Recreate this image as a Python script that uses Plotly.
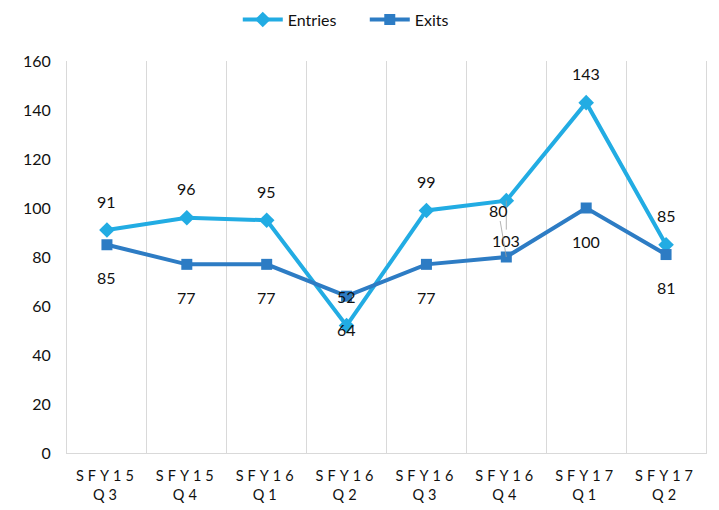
import plotly.graph_objects as go

categories = ["SFY15 Q3", "SFY15 Q4", "SFY16 Q1", "SFY16 Q2", "SFY16 Q3", "SFY16 Q4", "SFY17 Q1", "SFY17 Q2"]
tick_top = ["SFY15", "SFY15", "SFY16", "SFY16", "SFY16", "SFY16", "SFY17", "SFY17"]
tick_bottom = ["Q3", "Q4", "Q1", "Q2", "Q3", "Q4", "Q1", "Q2"]
entries = [91, 96, 95, 52, 99, 103, 143, 85]
exits = [85, 77, 77, 64, 77, 80, 100, 81]

ENTRY_COLOR = "#22ACE3"
EXIT_COLOR = "#2D7CC4"
FONT = "Lato, Calibri, Arial, sans-serif"

fig = go.Figure()
fig.add_trace(go.Scatter(
    x=categories, y=entries, name="Entries", mode="lines+markers",
    line=dict(color=ENTRY_COLOR, width=4),
    marker=dict(symbol="diamond", size=12, color=ENTRY_COLOR),
))
fig.add_trace(go.Scatter(
    x=categories, y=exits, name="Exits", mode="lines+markers",
    line=dict(color=EXIT_COLOR, width=4),
    marker=dict(symbol="square", size=11, color=EXIT_COLOR),
))

annotations = []
for i, (c, v) in enumerate(zip(categories, entries)):
    if i == 5:
        annotations.append(dict(x=c, y=v, text=str(v), showarrow=True, arrowhead=0,
                                arrowwidth=0.8, arrowcolor="#A0A0A0", ax=0, ay=40,
                                standoff=0, font=dict(size=16, color="#111")))
    else:
        annotations.append(dict(x=c, y=v, text=str(v), showarrow=False, yshift=29,
                                font=dict(size=16, color="#111")))
for i, (c, v) in enumerate(zip(categories, exits)):
    if i == 5:
        annotations.append(dict(x=c, y=v, text=str(v), showarrow=True, arrowhead=0,
                                arrowwidth=0.8, arrowcolor="#A0A0A0", ax=-8, ay=-47,
                                standoff=0, font=dict(size=16, color="#111")))
    else:
        annotations.append(dict(x=c, y=v, text=str(v), showarrow=False, yshift=-33,
                                font=dict(size=16, color="#111")))

ticktext = [f'<span style="letter-spacing:4px">{a}</span><br><span style="letter-spacing:4px">{b}</span>'
            for a, b in zip(tick_top, tick_bottom)]

fig.update_layout(
    width=719, height=510,
    margin=dict(l=67, r=13, t=61, b=57, autoexpand=False),
    paper_bgcolor="white", plot_bgcolor="white",
    font=dict(family=FONT, size=16, color="#111"),
    showlegend=True,
    legend=dict(orientation="h", x=0.466, xanchor="center", y=0.995, yanchor="top",
                yref="container", font=dict(size=16), itemwidth=40, entrywidth=72),
    annotations=annotations,
    xaxis=dict(
        type="category", tickmode="array", tickvals=categories, ticktext=ticktext,
        tickson="boundaries", showgrid=True, gridcolor="#D9D9D9", gridwidth=1,
        showline=True, linecolor="#D9D9D9", linewidth=1, ticks="", automargin=False,
        tickfont=dict(size=14.5), range=[-0.5, 7.5], ticklabelstandoff=10,
    ),
    yaxis=dict(
        range=[0, 160], dtick=20, showgrid=False, zeroline=False, automargin=False,
        showline=True, linecolor="#D9D9D9", linewidth=1, mirror=True,
        ticks="", ticklabelstandoff=12, tickfont=dict(size=16),
    ),
)
fig.write_html("out.html", config={"displayModeBar": False},
               post_script="document.body.style.margin='0';document.body.style.overflow='hidden';")
